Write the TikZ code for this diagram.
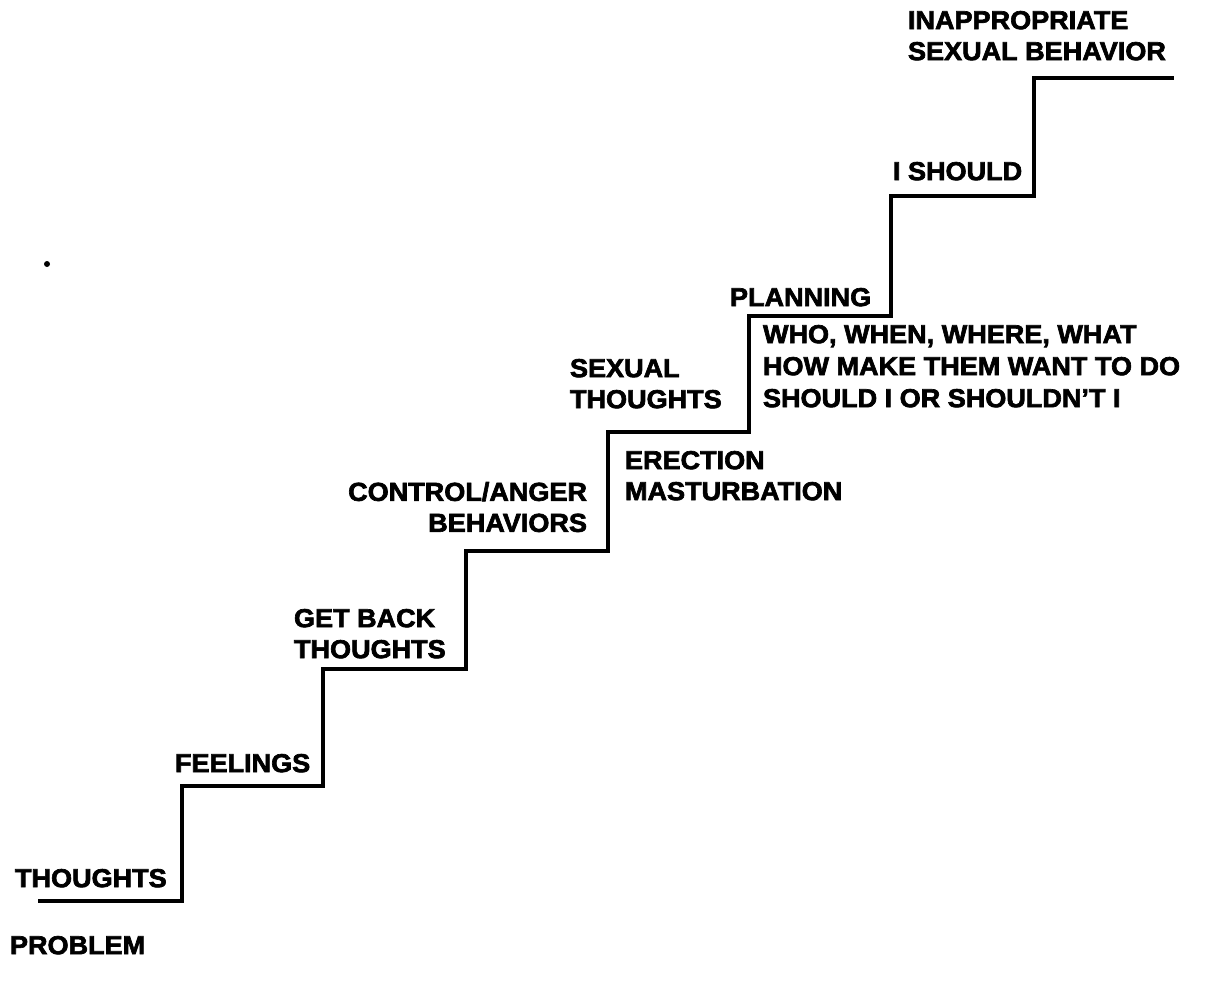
\documentclass[tikz,border=0pt]{standalone}
\usepackage{fontspec}
\setmainfont{Liberation Sans}[BoldFeatures={FakeBold=2.5,FakeStretch=1.04}]
\begin{document}
\begin{tikzpicture}[x=1pt,y=-1pt,
  lbl/.style={inner sep=0pt,outer sep=0pt,font=\fontsize{26}{31}\selectfont\bfseries},
  lblL/.style={lbl,align=left,anchor=north west},
  lblR/.style={lbl,align=right,anchor=north east},
  stair/.style={line width=3.2pt,line join=miter,line cap=butt}]
\useasboundingbox (0,0) rectangle (1218,986);
% staircase corners
\coordinate (c0) at (38,901);
\coordinate (c1) at (182,901);
\coordinate (c2) at (182,786);
\coordinate (c3) at (323,786);
\coordinate (c4) at (323,669);
\coordinate (c5) at (466,669);
\coordinate (c6) at (466,551);
\coordinate (c7) at (608,551);
\coordinate (c8) at (608,432);
\coordinate (c9) at (749,432);
\coordinate (c10) at (749,316);
\coordinate (c11) at (891,316);
\coordinate (c12) at (891,196);
\coordinate (c13) at (1034,196);
\coordinate (c14) at (1034,78);
\coordinate (c15) at (1174,78);
\draw[stair] (c0) -- (c1) -- (c2) -- (c3) -- (c4) -- (c5) -- (c6) -- (c7) -- (c8)
  -- (c9) -- (c10) -- (c11) -- (c12) -- (c13) -- (c14) -- (c15);
% labels
\node[lblL] (thoughts) at (15,869) {THOUGHTS};
\node[lblL] (problem) at (10,936) {PROBLEM};
\node[lblL] (feelings) at (175,754) {FEELINGS};
\node[lblL] (getback) at (294,609) {GET BACK\\THOUGHTS};
\node[lblR] (control) at (587,482) {CONTROL/ANGER\\BEHAVIORS};
\node[lblL] (sexual) at (570,359) {SEXUAL\\THOUGHTS};
\node[lblL] (erection) at (625,451) {ERECTION\\MASTURBATION};
\node[lblL] (planning) at (730,288) {PLANNING};
\node[lblL,font=\fontsize{26}{32}\selectfont\bfseries] (who) at (763,325) {WHO, WHEN, WHERE, WHAT\\HOW MAKE THEM WANT TO DO\\SHOULD I OR SHOULDN'T I};
\node[lblL] (ishould) at (893,162) {I SHOULD};
\node[lblL] (inappr) at (908,11) {INAPPROPRIATE\\SEXUAL BEHAVIOR};
% stray dot
\fill (47,264) circle (3);
\end{tikzpicture}
\end{document}
